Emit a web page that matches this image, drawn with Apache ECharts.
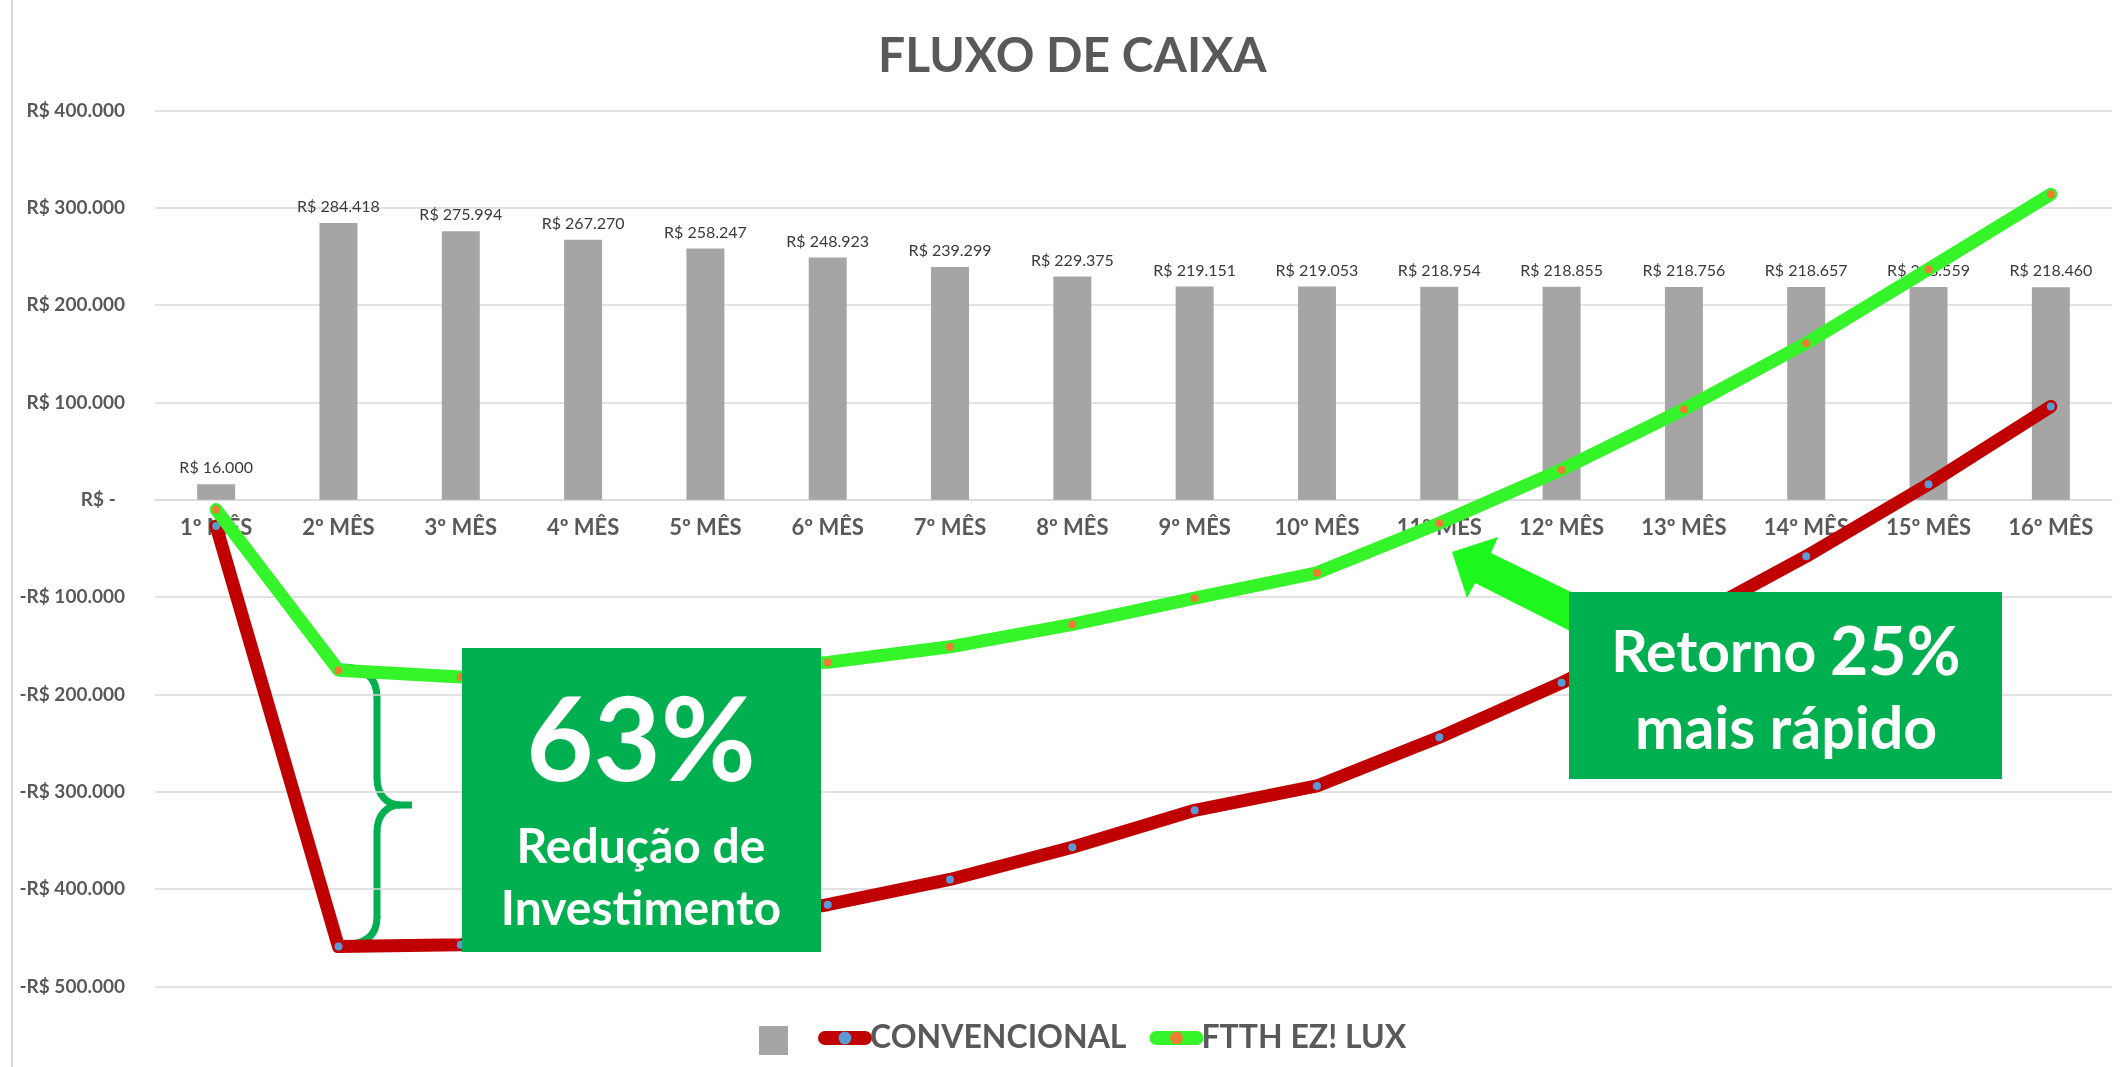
<!DOCTYPE html>
<html>
<head>
<meta charset="utf-8">
<script src="https://cdn.jsdelivr.net/npm/echarts@6/dist/echarts.min.js"></script>
<style>
  html, body { margin: 0; padding: 0; background: #fff; }
  #chart { width: 2121px; height: 1067px; }
</style>
</head>
<body>
<div id="chart"></div>
<script>
const FONT = "Lato, 'Noto Sans', sans-serif"

const months = ['1º MÊS', '2º MÊS', '3º MÊS', '4º MÊS', '5º MÊS', '6º MÊS', '7º MÊS', '8º MÊS',
  '9º MÊS', '10º MÊS', '11º MÊS', '12º MÊS', '13º MÊS', '14º MÊS', '15º MÊS', '16º MÊS']
const receita = [16000, 284418, 275994, 267270, 258247, 248923, 239299, 229375,
  219151, 219053, 218954, 218855, 218756, 218657, 218559, 218460]
const convencional = [-27000, -459000, -457000, -450000, -436000, -416000, -390000, -357000,
  -319000, -294000, -244000, -188000, -126000, -58000, 16000, 96000]
const ftth = [-10000, -175000, -182000, -180000, -174000, -167000, -151000, -128000,
  -101000, -75000, -24000, 31000, 93000, 161000, 237000, 314000]
const yMin = -500000
const yMax = 400000
const yStep = 100000

const GREY = '#595959'
const BOX = '#00B050'
const GRID_TOP = 110.5
const GRID_BOTTOM = 80.5
const GRID_H = 1067 - GRID_TOP - GRID_BOTTOM

function milhar(v) {
  return String(Math.abs(v)).replace(/\B(?=(\d{3})+(?!\d))/g, '.')
}
function reais(v) {
  if (v === 0) return 'R$ -  '
  return (v < 0 ? '-R$ ' : 'R$ ') + milhar(v)
}

const chart = echarts.init(document.getElementById('chart'))

chart.setOption({
  backgroundColor: '#fff',
  animation: false,
  textStyle: { fontFamily: FONT },
  title: {
    text: 'FLUXO DE CAIXA',
    left: 878,
    top: 33,
    padding: 0,
    textStyle: { fontSize: 48, fontWeight: 'bold', color: GREY, fontFamily: FONT },
  },
  legend: [
    {
      data: [' '],
      left: 759,
      top: 1026,
      padding: 0,
      icon: 'rect',
      itemWidth: 29,
      itemHeight: 29,
      selectedMode: false,
      textStyle: { fontSize: 10 },
    },
    {
      data: ['CONVENCIONAL', 'FTTH EZ! LUX'],
      left: 818,
      top: 1022,
      padding: 0,
      itemWidth: 40,
      itemHeight: 16,
      itemGap: 23,
      selectedMode: false,
      lineStyle: { width: 14, cap: 'round' },
      textStyle: { fontSize: 32, fontWeight: 'bold', color: GREY, fontFamily: FONT },
    },
  ],
  grid: { left: 155, right: 9, top: GRID_TOP, bottom: GRID_BOTTOM, outerBoundsMode: 'none', containLabel: false },
  xAxis: {
    type: 'category',
    data: months,
    // eixo desenhado na linha do zero
    offset: -GRID_H * (0 - yMin) / (yMax - yMin),
    axisLine: { onZero: false, lineStyle: { color: '#D9D9D9', width: 1.5 } },
    axisTick: { show: false },
    axisLabel: {
      color: GREY,
      fontSize: 22,
      fontWeight: 'bold',
      fontFamily: FONT,
      margin: 17,
      interval: 0,
    },
  },
  yAxis: {
    type: 'value',
    min: yMin,
    max: yMax,
    interval: yStep,
    axisLine: { show: false },
    axisTick: { show: false },
    splitLine: { lineStyle: { color: '#D9D9D9', width: 1.5 } },
    axisLabel: {
      color: GREY,
      fontSize: 19,
      fontWeight: 'bold',
      fontFamily: FONT,
      margin: 30,
      formatter: reais,
    },
  },
  series: [
    {
      name: ' ',
      type: 'bar',
      data: receita,
      barWidth: 38,
      z: 1,
      itemStyle: { color: '#A5A5A5' },
      label: {
        show: true,
        position: 'top',
        distance: 8,
        color: '#3A3A3A',
        fontSize: 16,
        fontFamily: FONT,
        formatter: (p) => 'R$ ' + milhar(p.value),
      },
    },
    {
      name: 'CONVENCIONAL',
      type: 'line',
      data: convencional,
      z: 3,
      symbol: 'circle',
      symbolSize: 8,
      itemStyle: { color: '#5B9BD5' },
      lineStyle: { color: '#C00000', width: 13, cap: 'round', join: 'round' },
    },
    {
      name: 'FTTH EZ! LUX',
      type: 'line',
      data: ftth,
      z: 4,
      symbol: 'circle',
      symbolSize: 8,
      itemStyle: { color: '#ED7D31' },
      lineStyle: { color: '#36F42A', width: 13, cap: 'round', join: 'round' },
    },
  ],
  graphic: [
    // borda esquerda da área do gráfico
    { type: 'line', z: 50, shape: { x1: 12, y1: 0, x2: 12, y2: 1067 }, style: { stroke: '#D9D9D9', lineWidth: 2 } },

    // chave entre as duas curvas no 2º mês
    {
      type: 'group',
      z: 60,
      children: [
        { type: 'bezierCurve', shape: { x1: 342, y1: 667, cpx1: 366, cpy1: 667, cpx2: 377, cpy2: 678, x2: 377, y2: 698 }, style: { stroke: BOX, lineWidth: 7, fill: null } },
        { type: 'line', shape: { x1: 377, y1: 697, x2: 377, y2: 779 }, style: { stroke: BOX, lineWidth: 7 } },
        { type: 'bezierCurve', shape: { x1: 377, y1: 778, cpx1: 377, cpy1: 796, cpx2: 388, cpy2: 805, x2: 400, y2: 805 }, style: { stroke: BOX, lineWidth: 7, fill: null } },
        { type: 'line', shape: { x1: 399, y1: 805, x2: 412, y2: 805 }, style: { stroke: BOX, lineWidth: 7 } },
        { type: 'bezierCurve', shape: { x1: 400, y1: 805, cpx1: 388, cpy1: 805, cpx2: 377, cpy2: 814, x2: 377, y2: 832 }, style: { stroke: BOX, lineWidth: 7, fill: null } },
        { type: 'line', shape: { x1: 377, y1: 831, x2: 377, y2: 918 }, style: { stroke: BOX, lineWidth: 7 } },
        { type: 'bezierCurve', shape: { x1: 377, y1: 917, cpx1: 377, cpy1: 935, cpx2: 366, cpy2: 945, x2: 342, y2: 945 }, style: { stroke: BOX, lineWidth: 7, fill: null } },
      ],
    },

    // seta verde
    {
      type: 'polygon',
      z: 60,
      shape: {
        points: [[1452, 552], [1498, 537], [1491, 553], [1610, 611], [1590, 641], [1475, 583], [1467, 598]],
      },
      style: { fill: '#1DF71D' },
    },

    // caixa 63%
    { type: 'rect', z: 70, shape: { x: 462, y: 648, width: 359, height: 304 }, style: { fill: BOX } },
    {
      type: 'text', z: 71, x: 641, y: 744,
      style: { text: '63%', fill: '#fff', font: `bold 116px ${FONT}`, align: 'center', verticalAlign: 'middle' },
    },
    {
      type: 'text', z: 71, x: 641, y: 848,
      style: { text: 'Redução de', fill: '#fff', font: `bold 48px ${FONT}`, align: 'center', verticalAlign: 'middle' },
    },
    {
      type: 'text', z: 71, x: 641, y: 910,
      style: { text: 'Investimento', fill: '#fff', font: `bold 48px ${FONT}`, align: 'center', verticalAlign: 'middle' },
    },

    // caixa retorno
    { type: 'rect', z: 70, shape: { x: 1569, y: 592, width: 433, height: 187 }, style: { fill: BOX } },
    {
      type: 'text', z: 71, x: 1786, y: 654,
      style: {
        text: '{a|Retorno} {b|25%}',
        align: 'center',
        verticalAlign: 'middle',
        rich: {
          a: { fill: '#fff', fontSize: 57, fontWeight: 'bold', fontFamily: FONT },
          b: { fill: '#fff', fontSize: 66, fontWeight: 'bold', fontFamily: FONT },
        },
        font: `bold 57px ${FONT}`,
        fill: '#fff',
      },
    },
    {
      type: 'text', z: 71, x: 1786, y: 730,
      style: { text: 'mais rápido', fill: '#fff', font: `bold 59px ${FONT}`, align: 'center', verticalAlign: 'middle' },
    },
  ],
})
</script>
</body>
</html>
